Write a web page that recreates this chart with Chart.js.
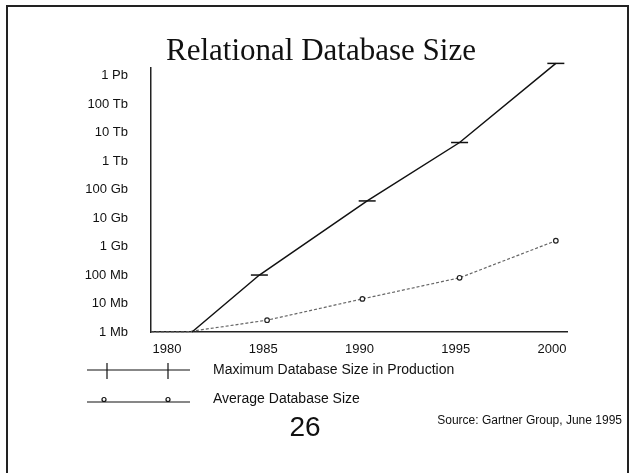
<!DOCTYPE html>
<html>
<head>
<meta charset="utf-8">
<script src="https://cdn.jsdelivr.net/npm/chart.js@4/dist/chart.umd.min.js"></script>
<style>
  html, body { margin: 0; padding: 0; background: #fff; }
  #wrap { width: 635px; height: 473px; position: relative; }
</style>
</head>
<body>
<div id="wrap"><canvas id="c" width="635" height="473"></canvas></div>
<script>
// ---- data ----
const titleText = 'Relational Database Size';
const xTickYears = [1980, 1985, 1990, 1995, 2000];
const yTickValues = [1e6, 1e7, 1e8, 1e9, 1e10, 1e11, 1e12, 1e13, 1e14, 1e15];
const yTickLabels = ['1 Mb', '10 Mb', '100 Mb', '1 Gb', '10 Gb', '100 Gb', '1 Tb', '10 Tb', '100 Tb', '1 Pb'];

const seriesNames = ['Maximum Database Size in Production', 'Average Database Size'];
const maxYears = [1981.3, 1984.8, 1990.4, 1995.2, 2000.2];
const maxSizes = [1e6, 1e8, 4e10, 4.5e12, 2.7e15];
const avgYears = [1979.17, 1981.0, 1985.2, 1990.15, 1995.2, 2000.2];
const avgSizes = [1e6, 1e6, 2.6e6, 1.45e7, 8e7, 1.6e9];

const pageNumber = '26';
const sourceText = 'Source: Gartner Group, June 1995';

const maxPts = maxYears.map((x, i) => ({ x: x, y: maxSizes[i] }));
const avgPts = avgYears.map((x, i) => ({ x: x, y: avgSizes[i] }));

const SANS = '"Liberation Sans", Arial, Helvetica, sans-serif';
const SERIF = '"Liberation Serif", "Times New Roman", serif';

const decor = {
  id: 'decor',
  beforeDraw(chart) {
    const ctx = chart.ctx;
    ctx.save();
    ctx.fillStyle = '#fff';
    ctx.fillRect(0, 0, chart.width, chart.height);
    ctx.restore();
  },
  afterDraw(chart) {
    const ctx = chart.ctx;
    ctx.save();
    // frame
    ctx.strokeStyle = '#222';
    ctx.lineWidth = 2;
    ctx.strokeRect(7, 6, 621, 480);
    // title
    ctx.fillStyle = '#111';
    ctx.font = '31px ' + SERIF;
    ctx.textAlign = 'center';
    ctx.textBaseline = 'alphabetic';
    ctx.fillText(titleText, 321, 60);
    // legend
    ctx.strokeStyle = '#111';
    ctx.lineWidth = 1.2;
    ctx.beginPath();
    ctx.moveTo(87, 370); ctx.lineTo(190, 370);
    ctx.moveTo(107, 363); ctx.lineTo(107, 379);
    ctx.moveTo(168, 363); ctx.lineTo(168, 379);
    ctx.moveTo(87, 402); ctx.lineTo(190, 402);
    ctx.stroke();
    ctx.fillStyle = '#fff';
    [104, 168].forEach(x => {
      ctx.beginPath();
      ctx.arc(x, 399.5, 2, 0, Math.PI * 2);
      ctx.fill();
      ctx.stroke();
    });
    ctx.fillStyle = '#111';
    ctx.font = '14px ' + SANS;
    ctx.textAlign = 'left';
    ctx.textBaseline = 'middle';
    ctx.fillText(seriesNames[0], 213, 370);
    ctx.fillText(seriesNames[1], 213, 399);
    // page number
    ctx.font = '28px ' + SANS;
    ctx.textAlign = 'center';
    ctx.fillText(pageNumber, 305, 428);
    // source
    ctx.font = '12px ' + SANS;
    ctx.textAlign = 'right';
    ctx.fillText(sourceText, 622, 421);
    ctx.restore();
  }
};

new Chart(document.getElementById('c'), {
  type: 'line',
  data: {
    datasets: [
      {
        label: seriesNames[0],
        data: maxPts,
        borderColor: '#111',
        borderWidth: 1.5,
        pointStyle: 'line',
        pointRadius: maxPts.map((p, i) => i === 0 ? 0 : 8.5),
        pointBorderColor: '#111',
        pointBorderWidth: 1.5,
        tension: 0,
        clip: false
      },
      {
        label: seriesNames[1],
        data: avgPts,
        borderColor: '#666',
        borderWidth: 1.2,
        borderDash: [3, 2],
        pointStyle: 'circle',
        pointRadius: avgPts.map((p, i) => i < 2 ? 0 : 2.3),
        pointBackgroundColor: '#fff',
        pointBorderColor: '#222',
        pointBorderWidth: 1.2,
        tension: 0,
        clip: false
      }
    ]
  },
  options: {
    responsive: false,
    animation: false,
    events: [],
    layout: { padding: { left: 0, top: 68, right: 68, bottom: 101 } },
    plugins: {
      legend: { display: false },
      title: { display: false },
      tooltip: { enabled: false }
    },
    scales: {
      x: {
        type: 'linear',
        min: 1979.17,
        max: 2000.78,
        afterBuildTicks: s => { s.ticks = xTickYears.map(v => ({ value: v })); },
        afterFit: s => { s.height = 40; },
        grid: { display: true, drawOnChartArea: false, drawTicks: false, color: 'rgba(0,0,0,0)' },
        border: { display: true, color: '#222', width: 1.5 },
        ticks: {
          padding: 10,
          color: '#111',
          font: { family: SANS, size: 13 },
          maxRotation: 0,
          callback: v => String(v)
        }
      },
      y: {
        type: 'logarithmic',
        min: 1e6,
        max: 1.86e15,
        afterBuildTicks: s => { s.ticks = yTickValues.map(v => ({ value: v })); },
        afterFit: s => { s.width = 151; },
        grid: { display: true, drawOnChartArea: false, drawTicks: false, color: 'rgba(0,0,0,0)' },
        border: { display: true, color: '#222', width: 1.5 },
        ticks: {
          padding: 23,
          color: '#111',
          font: { family: SANS, size: 13 },
          autoSkip: false,
          callback: v => yTickLabels[Math.round(Math.log10(v)) - 6]
        }
      }
    }
  },
  plugins: [decor]
});
</script>
</body>
</html>
